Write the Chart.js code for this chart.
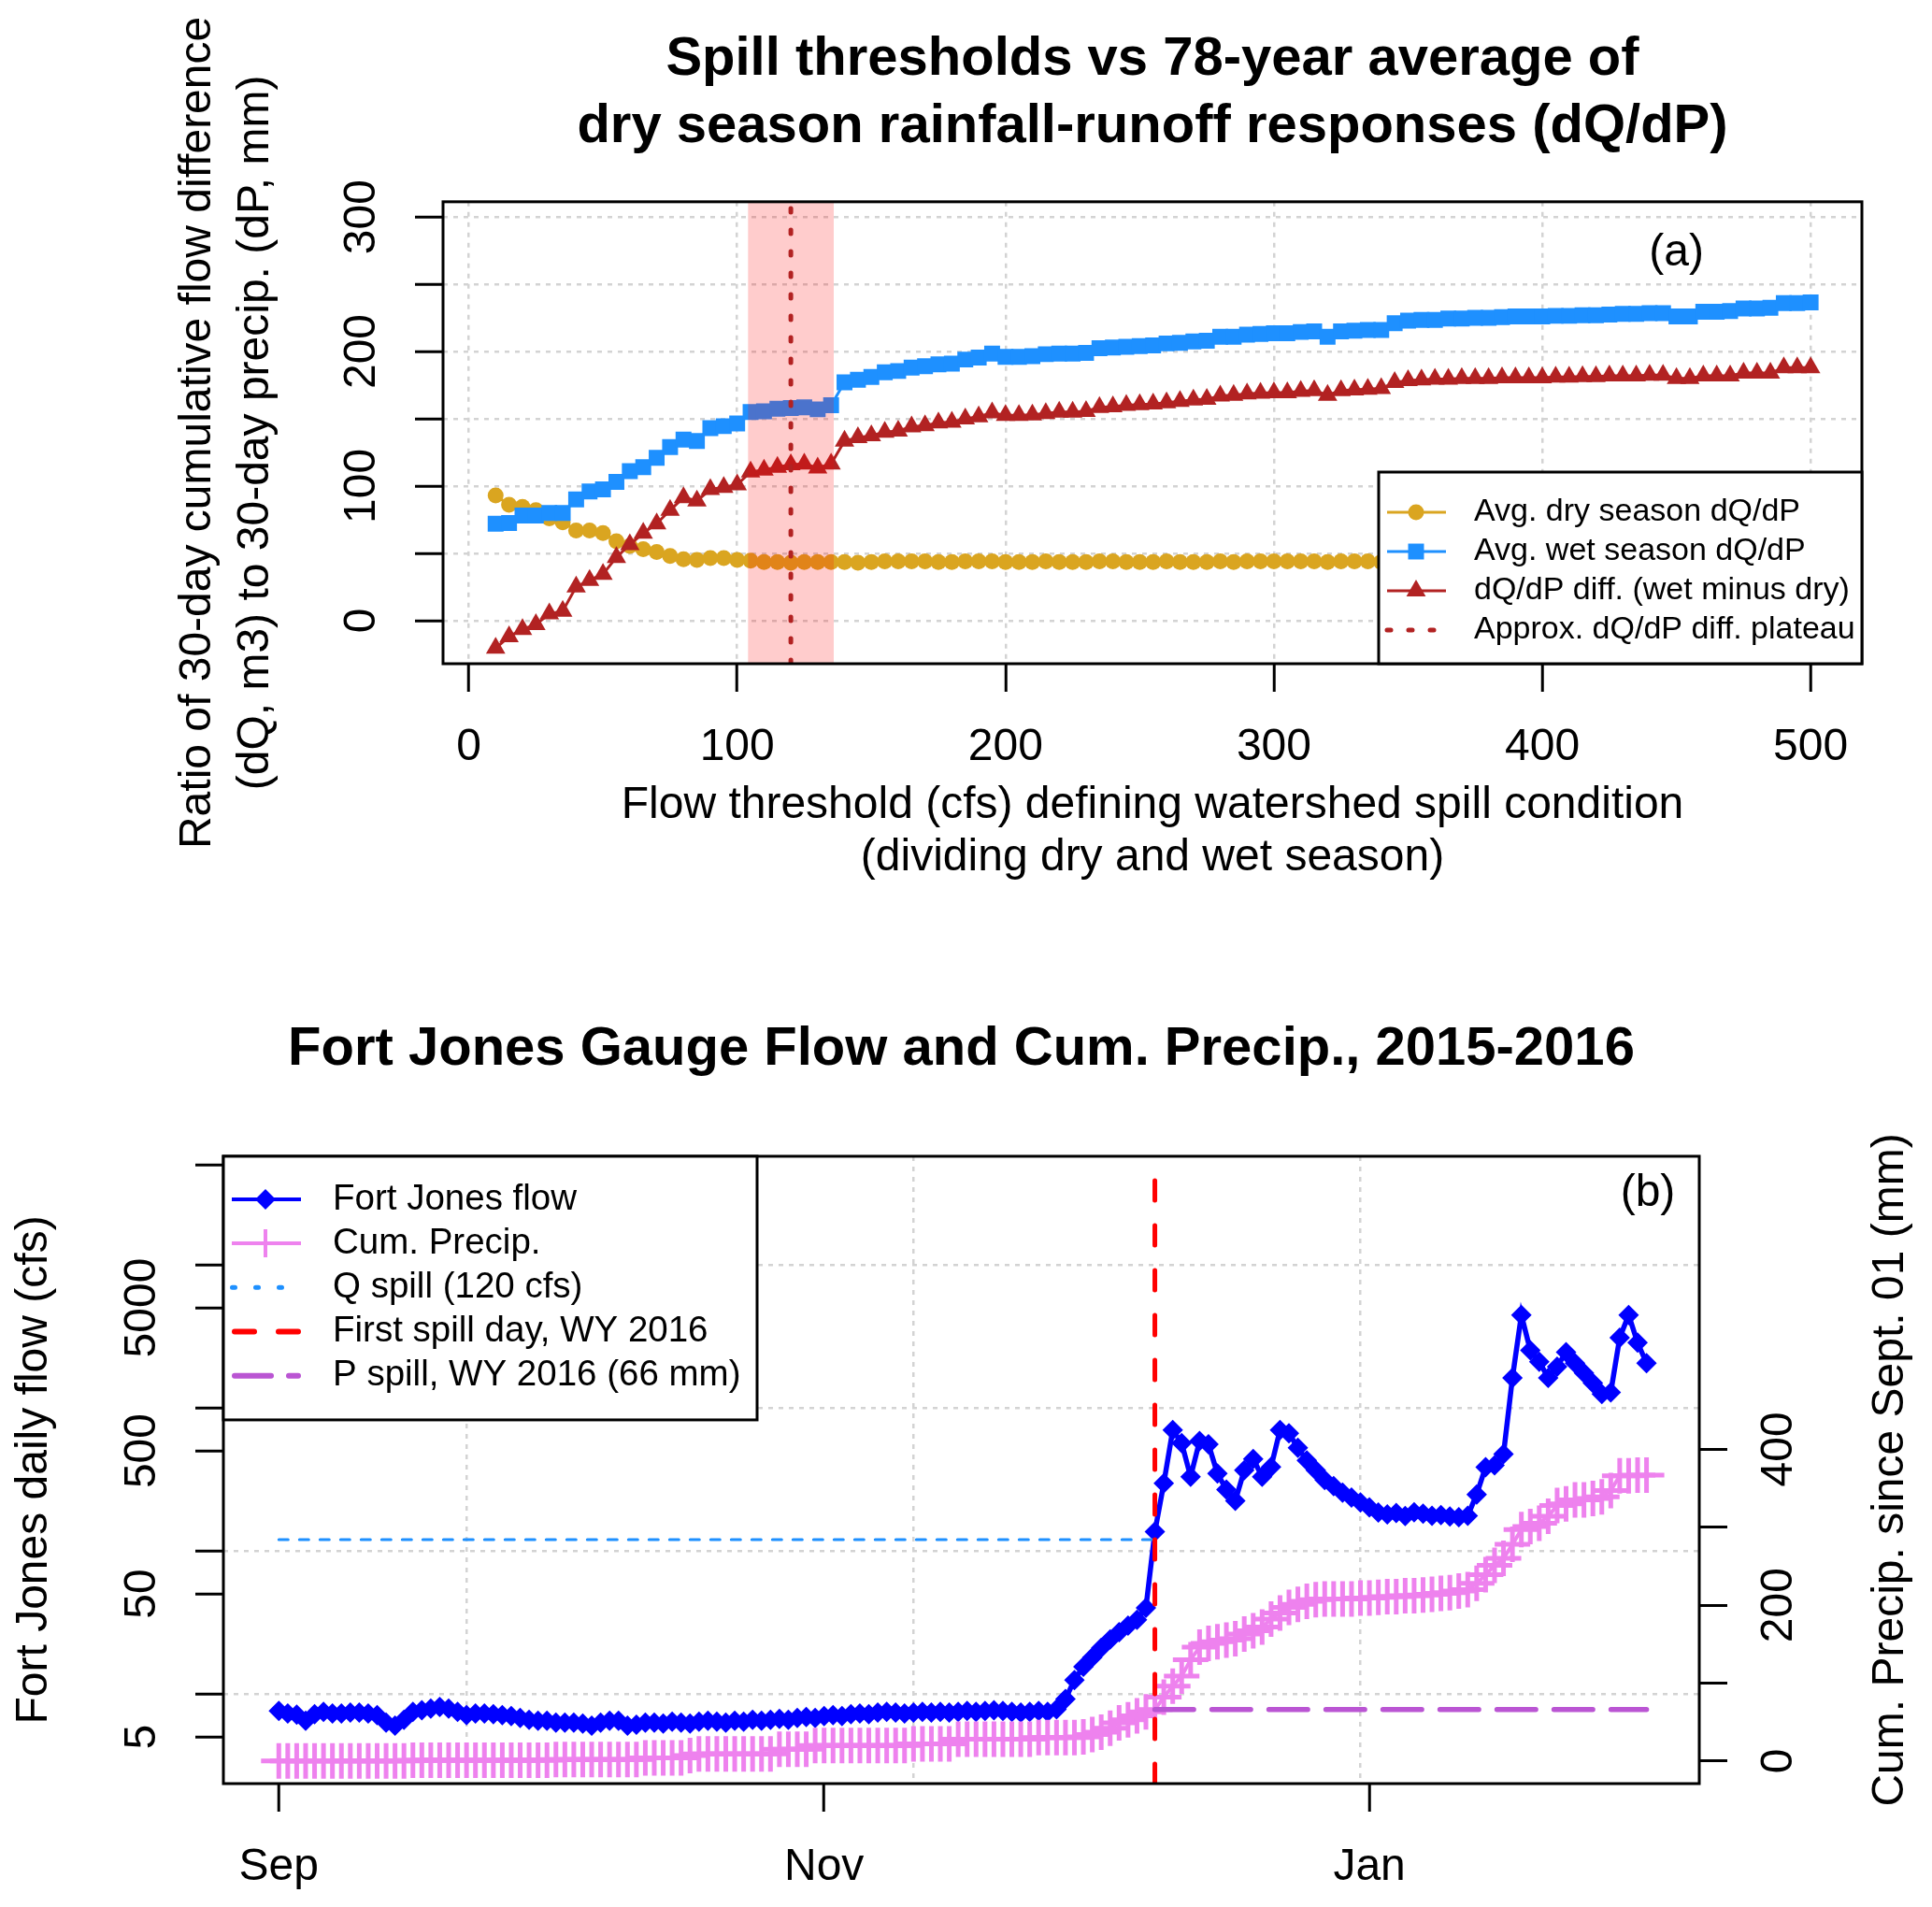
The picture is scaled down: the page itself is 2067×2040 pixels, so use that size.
<!DOCTYPE html>
<html>
<head>
<meta charset="utf-8">
<style>
html,body{margin:0;padding:0;background:#fff;}
body{width:2067px;height:2040px;position:relative;overflow:hidden;}
canvas{position:absolute;left:0;}
#chart-a{top:0;}
#chart-b{top:1000px;}
</style>
<script src="https://cdn.jsdelivr.net/npm/chart.js@4.4.1/dist/chart.umd.min.js"></script>
</head>
<body>
<canvas id="chart-a" width="2067" height="1000" style="width:2067px;height:1000px"></canvas>
<canvas id="chart-b" width="2067" height="1040" style="width:2067px;height:1040px"></canvas>
<script>
// ---- panel (a): spill thresholds vs average dQ/dP ----
const THRESHOLDS = [10,15,20,25,30,35,40,45,50,55,
  60,65,70,75,80,85,90,95,100,105,
  110,115,120,125,130,135,140,145,150,155,
  160,165,170,175,180,185,190,195,200,205,
  210,215,220,225,230,235,240,245,250,255,
  260,265,270,275,280,285,290,295,300,305,
  310,315,320,325,330,335,340,345,350,355,
  360,365,370,375,380,385,390,395,400,405,
  410,415,420,425,430,435,440,445,450,455,
  460,465,470,475,480,485,490,495,500];
const DRY_DQDP = [93,86,84.5,82,76,73,67,67,65,59,
  55.5,53,51,48,45.5,45,46.5,46.5,45,44.5,
  43.5,43.5,43,43.5,43.5,43.5,43.5,43,43.5,44,
  44,44,44,43.5,43.5,44,44,44,43.5,43.5,
  43.5,44,43.5,43.5,43.5,44,44,43.5,43.5,43.5,
  44,43.5,43.5,43.5,44,43.5,44,44,44,44,
  44,44,43.5,44,44,44,43.5,44,44.5,44.5,
  44,44.5,44.5,44.5,44.5,44.5,44.5,44.5,45.5,45.5,
  45.5,45.5,45.5,45.5,46,46,46,46,46,46,
  47.5,47.5,48,48,48,48.5,48,48,48.5];
const WET_DQDP = [72,72.5,78,78,80,80,90,96,97.5,103,
  111,114,121,129,134.5,133.5,143,144.5,146.5,155,
  155.5,157.5,158,158.5,157,160,177,179,181,184.5,
  185.5,188,189,190.5,191,194,195.5,198.5,196,196,
  196.5,198,198.5,198.5,199,202.5,203,203.5,204,204.5,
  206,206.5,207.5,208,211,211,212.5,213,213.5,213.5,
  214.5,215,211,215,215.5,216,216,221,223,223.5,
  223.5,224.5,224.5,225,225,225.5,226,226,226,226.5,
  226.5,227,227,227.5,228,228,228.5,228.5,226,226,
  229.5,229.5,230,232,232,232.5,236,236,236.5];
const DIFF_DQDP = [-20.5,-12,-6.5,-3,5,7,25,30,34.5,47,
  56.5,65,72,82,91.5,89,97.5,99,101,110.5,
  112,114,116,116.5,113.5,116.5,133.5,136,137.5,140,
  141,144,145,147,147.5,150,151.5,154.5,152.5,152.5,
  153,154,155,155,155.5,158.5,159,160,160.5,161,
  162,163,164,164.5,167,167.5,168.5,169,169.5,169.5,
  170.5,171,167.5,171,171.5,172,172.5,177,178.5,179,
  179.5,179.5,180,180,180,180.5,180.5,180.5,180.5,181,
  181,181.5,181.5,182,182,182,182.5,182.5,180,180,
  182,182,182,184,184,184,188,188,188];
const PLATEAU_BAND = [104, 136];
const PLATEAU_X = 120;
const A_X_TICKS = [0,100,200,300,400,500];
const A_Y_TICKS = [0,50,100,150,200,250,300];
const A_Y_LABELED = [0,100,200,300];

// ---- panel (b): Fort Jones flow and cumulative precip, Sep 1 2015 = day 0 ----
const FLOW_CFS = [7.6,7.3,7.15,6.5,7.2,7.5,7.3,7.3,7.4,7.4,
  7.3,7.1,6.3,6.0,6.6,7.5,7.7,7.9,8.1,7.9,
  7.5,7.1,7.3,7.3,7.2,7.1,7.0,6.8,6.6,6.5,
  6.5,6.3,6.3,6.3,6.2,6.0,6.3,6.5,6.5,6.0,
  6.1,6.3,6.3,6.2,6.4,6.3,6.2,6.4,6.5,6.4,
  6.3,6.5,6.4,6.6,6.5,6.6,6.7,6.6,6.8,6.9,
  6.8,7.0,7.1,7.0,7.2,7.3,7.2,7.4,7.5,7.4,
  7.3,7.4,7.5,7.4,7.5,7.4,7.5,7.6,7.5,7.6,
  7.7,7.6,7.5,7.4,7.5,7.6,7.5,7.8,9.2,12.5,
  15.5,18,21,24,27,30,33,40,136,297,
  700,566,330,585,555,347,268,224,366,439,
  330,386,699,664,526,429,366,313,283,255,
  236,218,201,185,180,184,175,186,182,176,
  178,174,172,176,248,385,396,474,1620,4450,
  2520,2100,1620,1940,2450,2050,1750,1490,1250,1280,
  3090,4450,2850,2050];
const CUM_PRECIP_MM = [0,0,0,0,0,0,0,0,0,0,
  0,0,0,0,0,1,1,1,1,1,
  1,1,1,1,1,1,1,1,1,1,
  1,2,2,2,2,2,2,2,2,2,
  2,4,4,4,4,4,7,9,9,9,
  9,9,9,9,9,9,15,15,15,15,
  20,20,20,20,20,20,20,20,20,20,
  20,22,22,22,22,22,28,28,28,28,
  28,28,28,28,28,30,30,30,30,30,
  31,34,37,42,49,53,58,63,66,82,
  96,109,130,146,151,153,155,157,163,167,
  172,182,190,197,201,205,207,208,208,208,
  208,209,209,210,211,211,212,212,213,214,
  215,216,218,220,228,239,251,260,278,297,
  301,305,314,328,330,335,335,337,339,347,
  366,366,367,367];
const Q_SPILL = 120;
const P_SPILL = 66;
const FIRST_SPILL_DAY = 98;
const LAST_DAY = 153;
const B_X_TICKS = [0, 61, 122];
const B_X_LABELS = ['Sep', 'Nov', 'Jan'];
const B_X_GRID = [21, 71, 121];
const FLOW_TICKS = [5,10,50,100,500,1000,5000,10000,50000];
const FLOW_LABELED = [5,50,500,5000];
const FLOW_GRID = [10,100,1000,10000];
const PRECIP_TICKS = [0,100,200,300,400];
const PRECIP_LABELED = [0,200,400];

// axis ranges (R style 4% extension)
const A_X_RANGE = [-9.6, 519.1];
const A_Y_RANGE = [-32.1, 311.3];
const B_X_RANGE = [-6.2, 158.9];
const FLOW_RANGE = [2.36, 57300];
const PRECIP_RANGE = [-29, 776];

const FONT = '"Liberation Sans", Arial, Helvetica, sans-serif';
const GRID = '#d3d3d3';
const GOLD = '#daa520', DODGER = '#1e90ff', FIREBRICK = '#b22222';
const FLOW_BLUE = '#0000ff', VIOLET = '#ee82ee', RED = '#ff0000', ORCHID = '#ba55d3';
const CLEAR = 'rgba(0,0,0,0)';

Chart.defaults.font.family = FONT;
Chart.defaults.font.size = 48;
Chart.defaults.color = '#000';

const pts = (xs, ys) => xs.map((x, i) => ({x, y: ys[i]}));
const DAYS = FLOW_CFS.map((_, i) => i);

// frame, legend and loose texts, drawn like R does
function panelPlugin(cfg) {
  return {
    id: 'panel' + cfg.name,
    afterDraw(chart) {
      const {ctx, chartArea: a} = chart;
      ctx.save();
      ctx.strokeStyle = '#000';
      ctx.lineWidth = 3;
      ctx.strokeRect(a.left, a.top, a.right - a.left, a.bottom - a.top);

      // panel tag
      ctx.fillStyle = '#000';
      ctx.font = `48px ${FONT}`;
      ctx.textAlign = 'center';
      ctx.textBaseline = 'middle';
      let tx, ty;
      if (cfg.tag.data) {
        tx = chart.scales.x.getPixelForValue(cfg.tag.data[0]);
        ty = chart.scales.y.getPixelForValue(cfg.tag.data[1]);
      } else {
        tx = a.right + cfg.tag.dx;
        ty = a.top + cfg.tag.dy;
      }
      ctx.fillText(cfg.tag.text, tx, ty);

      // right side axis title, reads bottom to top as in R
      if (cfg.sideTitle) {
        ctx.save();
        ctx.translate(cfg.sideTitle.x, (a.top + a.bottom) / 2);
        ctx.rotate(-Math.PI / 2);
        ctx.fillText(cfg.sideTitle.text, 0, 0);
        ctx.restore();
      }

      const L = cfg.legend;
      const x0 = L.corner === 'topleft' ? a.left : a.right - L.width;
      const y0 = L.corner === 'topleft' ? a.top : a.bottom - L.height;
      ctx.fillStyle = '#fff';
      ctx.fillRect(x0, y0, L.width, L.height);
      ctx.strokeStyle = '#000';
      ctx.lineWidth = 3;
      ctx.strokeRect(x0, y0, L.width, L.height);
      L.items.forEach((it, i) => {
        const y = y0 + L.firstRow + i * L.rowGap;
        ctx.save();
        ctx.strokeStyle = it.color;
        ctx.lineWidth = it.lineWidth;
        ctx.lineCap = it.dash ? 'round' : 'butt';
        ctx.setLineDash(it.dash || []);
        ctx.beginPath();
        ctx.moveTo(x0 + it.from, y);
        ctx.lineTo(x0 + it.to, y);
        ctx.stroke();
        ctx.setLineDash([]);
        if (it.pointStyle) {
          ctx.fillStyle = it.color;
          ctx.lineWidth = it.pointBorder || 0;
          Chart.helpers.drawPoint(ctx, {pointStyle: it.pointStyle, radius: it.radius, rotation: 0, borderWidth: it.pointBorder || 0}, x0 + L.markX, y);
        }
        ctx.restore();
        ctx.fillStyle = '#000';
        ctx.font = `${L.fontSize}px ${FONT}`;
        ctx.textAlign = 'left';
        ctx.textBaseline = 'middle';
        ctx.fillText(it.label, x0 + L.textX, y);
      });
      ctx.restore();
    }
  };
}

function tickAxis(ticks, extra) {
  return Object.assign({
    afterBuildTicks: s => { s.ticks = ticks.map(v => ({value: v})); },
  }, extra);
}

// ---------- chart (a) ----------
new Chart(document.getElementById('chart-a'), {
  type: 'line',
  data: {
    datasets: [
      {label: 'Avg. dry season dQ/dP', data: pts(THRESHOLDS, DRY_DQDP), borderColor: GOLD, backgroundColor: GOLD,
       borderWidth: 3, pointStyle: 'circle', pointRadius: 8.5, pointBorderWidth: 0, order: 5},
      {label: 'Avg. wet season dQ/dP', data: pts(THRESHOLDS, WET_DQDP), borderColor: DODGER, backgroundColor: DODGER,
       borderWidth: 3, pointStyle: 'rect', pointRadius: 12, pointBorderWidth: 0, order: 4},
      {label: 'dQ/dP diff. (wet minus dry)', data: pts(THRESHOLDS, DIFF_DQDP), borderColor: FIREBRICK, backgroundColor: FIREBRICK,
       borderWidth: 3, pointStyle: 'triangle', pointRadius: 12, pointBorderWidth: 0, order: 3},
      {label: 'plateau band', data: pts(PLATEAU_BAND, [A_Y_RANGE[1], A_Y_RANGE[1]]), fill: 'start',
       backgroundColor: 'rgba(255,0,0,0.2)', borderColor: CLEAR, borderWidth: 1, pointRadius: 0, order: 2},
      {label: 'Approx. dQ/dP diff. plateau', data: pts([PLATEAU_X, PLATEAU_X], A_Y_RANGE), borderColor: FIREBRICK,
       borderWidth: 5, borderDash: [4, 19], borderCapStyle: 'round', pointRadius: 0, order: 1}
    ]
  },
  options: {
    responsive: false, animation: false, devicePixelRatio: 1, events: [],
    layout: {padding: {left: 0, right: 75, top: 0, bottom: 0}},
    plugins: {
      legend: {display: false}, tooltip: {enabled: false},
      title: {display: true, fullSize: false, color: '#000',
        text: ['Spill thresholds vs 78-year average of', 'dry season rainfall-runoff responses (dQ/dP)'],
        font: {size: 58, weight: 'bold', lineHeight: 1.24}, padding: {top: 28, bottom: 44}}
    },
    scales: {
      x: tickAxis(A_X_TICKS, {
        type: 'linear', min: A_X_RANGE[0], max: A_X_RANGE[1],
        afterFit: s => { s.height = 290; },
        ticks: {autoSkip: false, maxRotation: 0, padding: 31, color: '#000', callback: v => String(v)},
        grid: {color: GRID, lineWidth: 2.5, tickLength: 30, tickWidth: 3, tickColor: '#000'},
        border: {display: false, dash: [5, 6]},
        title: {display: true, color: '#000',
          text: ['Flow threshold (cfs) defining watershed spill condition', '(dividing dry and wet season)'],
          font: {size: 48, lineHeight: 1.167}, padding: {top: 0, bottom: 54}}
      }),
      y: tickAxis(A_Y_TICKS, {
        type: 'linear', position: 'left', min: A_Y_RANGE[0], max: A_Y_RANGE[1],
        afterFit: s => { s.width = 474; },
        ticks: {autoSkip: false, minRotation: 90, maxRotation: 90, crossAlign: 'center', padding: 16, color: '#000',
          callback: v => A_Y_LABELED.includes(v) ? String(v) : ''},
        grid: {color: GRID, lineWidth: 2.5, tickLength: 30, tickWidth: 3, tickColor: '#000'},
        border: {display: false, dash: [5, 6]},
        title: {display: true, color: '#000',
          text: ['Ratio of 30-day cumulative flow difference', '(dQ, m3) to 30-day precip. (dP, mm)'],
          font: {size: 48, lineHeight: 1.29}, padding: {top: 181, bottom: 0}}
      })
    }
  },
  plugins: [panelPlugin({
    name: 'A',
    tag: {text: '(a)', data: [450, 273]},
    legend: {
      corner: 'bottomright', width: 517, height: 205, firstRow: 43, rowGap: 42,
      markX: 40, textX: 102, fontSize: 34,
      items: [
        {label: 'Avg. dry season dQ/dP', color: GOLD, lineWidth: 3, from: 9, to: 72, pointStyle: 'circle', radius: 8.5},
        {label: 'Avg. wet season dQ/dP', color: DODGER, lineWidth: 3, from: 9, to: 72, pointStyle: 'rect', radius: 12},
        {label: 'dQ/dP diff. (wet minus dry)', color: FIREBRICK, lineWidth: 3, from: 9, to: 72, pointStyle: 'triangle', radius: 12},
        {label: 'Approx. dQ/dP diff. plateau', color: FIREBRICK, lineWidth: 5, from: 9, to: 72, dash: [4, 19]}
      ]
    }
  })]
});

// ---------- chart (b) ----------
new Chart(document.getElementById('chart-b'), {
  type: 'line',
  data: {
    datasets: [
      {label: 'Fort Jones flow', yAxisID: 'y', data: pts(DAYS, FLOW_CFS), borderColor: FLOW_BLUE, backgroundColor: FLOW_BLUE,
       borderWidth: 5.5, pointStyle: 'rectRot', pointRadius: 11, pointBorderWidth: 0, order: 5},
      {label: 'Cum. Precip.', yAxisID: 'y2', data: pts(DAYS, CUM_PRECIP_MM), borderColor: VIOLET, backgroundColor: VIOLET,
       borderWidth: 4, pointStyle: 'cross', pointRadius: 19, pointBorderWidth: 5, pointBorderColor: VIOLET, order: 4},
      {label: 'Q spill (120 cfs)', yAxisID: 'y', data: pts([0, FIRST_SPILL_DAY], [Q_SPILL, Q_SPILL]), borderColor: DODGER,
       borderWidth: 3, borderDash: [10, 12], borderCapStyle: 'round', pointRadius: 0, order: 3},
      {label: 'P spill, WY 2016 (66 mm)', yAxisID: 'y2', data: pts([FIRST_SPILL_DAY, LAST_DAY], [P_SPILL, P_SPILL]), borderColor: ORCHID,
       borderWidth: 5.5, borderDash: [41.5, 19.5], borderCapStyle: 'round', pointRadius: 0, order: 2},
      {label: 'First spill day, WY 2016', yAxisID: 'y', data: pts([FIRST_SPILL_DAY, FIRST_SPILL_DAY], FLOW_RANGE), borderColor: RED,
       borderWidth: 5, borderDash: [21, 27], borderCapStyle: 'round', pointRadius: 0, order: 1}
    ]
  },
  options: {
    responsive: false, animation: false, devicePixelRatio: 1, events: [],
    layout: {padding: 0},
    plugins: {
      legend: {display: false}, tooltip: {enabled: false},
      title: {display: true, fullSize: false, color: '#000',
        text: 'Fort Jones Gauge Flow and Cum. Precip., 2015-2016',
        font: {size: 58, weight: 'bold', lineHeight: 1.24}, padding: {top: 87, bottom: 78}}
    },
    scales: {
      x: tickAxis([...B_X_TICKS, ...B_X_GRID].sort((p, q) => p - q), {
        type: 'linear', min: B_X_RANGE[0], max: B_X_RANGE[1],
        afterFit: s => { s.height = 132; },
        ticks: {autoSkip: false, maxRotation: 0, padding: 31, color: '#000',
          callback: v => { const k = B_X_TICKS.indexOf(v); return k < 0 ? '' : B_X_LABELS[k]; }},
        grid: {color: c => B_X_GRID.includes(c.tick.value) ? GRID : CLEAR, lineWidth: 2.5, tickLength: 30, tickWidth: 3,
          tickColor: c => B_X_TICKS.includes(c.tick.value) ? '#000' : CLEAR},
        border: {display: false, dash: [5, 6]}
      }),
      y: tickAxis(FLOW_TICKS, {
        type: 'logarithmic', position: 'left', min: FLOW_RANGE[0], max: FLOW_RANGE[1],
        afterFit: s => { s.width = 239; },
        ticks: {autoSkip: false, minRotation: 90, maxRotation: 90, crossAlign: 'center', padding: 3, color: '#000',
          callback: v => FLOW_LABELED.includes(v) ? String(v) : ''},
        grid: {color: c => FLOW_GRID.includes(c.tick.value) ? GRID : CLEAR, lineWidth: 2.5, tickLength: 30, tickWidth: 3, tickColor: '#000'},
        border: {display: false, dash: [5, 6]},
        title: {display: true, color: '#000', text: 'Fort Jones daily flow (cfs)',
          font: {size: 48, lineHeight: 1.2}, padding: {top: 8, bottom: 0}}
      }),
      y2: tickAxis(PRECIP_TICKS, {
        type: 'linear', position: 'right', min: PRECIP_RANGE[0], max: PRECIP_RANGE[1],
        afterFit: s => { s.width = 249; },
        ticks: {autoSkip: false, minRotation: 90, maxRotation: 90, crossAlign: 'center', padding: 16, color: '#000',
          callback: v => PRECIP_LABELED.includes(v) ? String(v) : ''},
        grid: {drawOnChartArea: false, tickLength: 30, tickWidth: 3, tickColor: '#000'},
        border: {display: false}
      })
    }
  },
  plugins: [panelPlugin({
    name: 'B',
    tag: {text: '(b)', dx: -55, dy: 40},
    sideTitle: {text: 'Cum. Precip. since Sept. 01 (mm)', x: 2023},
    legend: {
      corner: 'topleft', width: 571, height: 282, firstRow: 46, rowGap: 47.2,
      markX: 45, textX: 117, fontSize: 38.5,
      items: [
        {label: 'Fort Jones flow', color: FLOW_BLUE, lineWidth: 4, from: 9, to: 83, pointStyle: 'rectRot', radius: 11},
        {label: 'Cum. Precip.', color: VIOLET, lineWidth: 4, from: 9, to: 83, pointStyle: 'cross', radius: 15, pointBorder: 4},
        {label: 'Q spill (120 cfs)', color: DODGER, lineWidth: 5, from: 9.5, to: 83, dash: [3, 22]},
        {label: 'First spill day, WY 2016', color: RED, lineWidth: 6, from: 12, to: 80, dash: [21, 26]},
        {label: 'P spill, WY 2016 (66 mm)', color: ORCHID, lineWidth: 6, from: 12, to: 80, dash: [39, 19]}
      ]
    }
  })]
});
</script>
</body>
</html>
